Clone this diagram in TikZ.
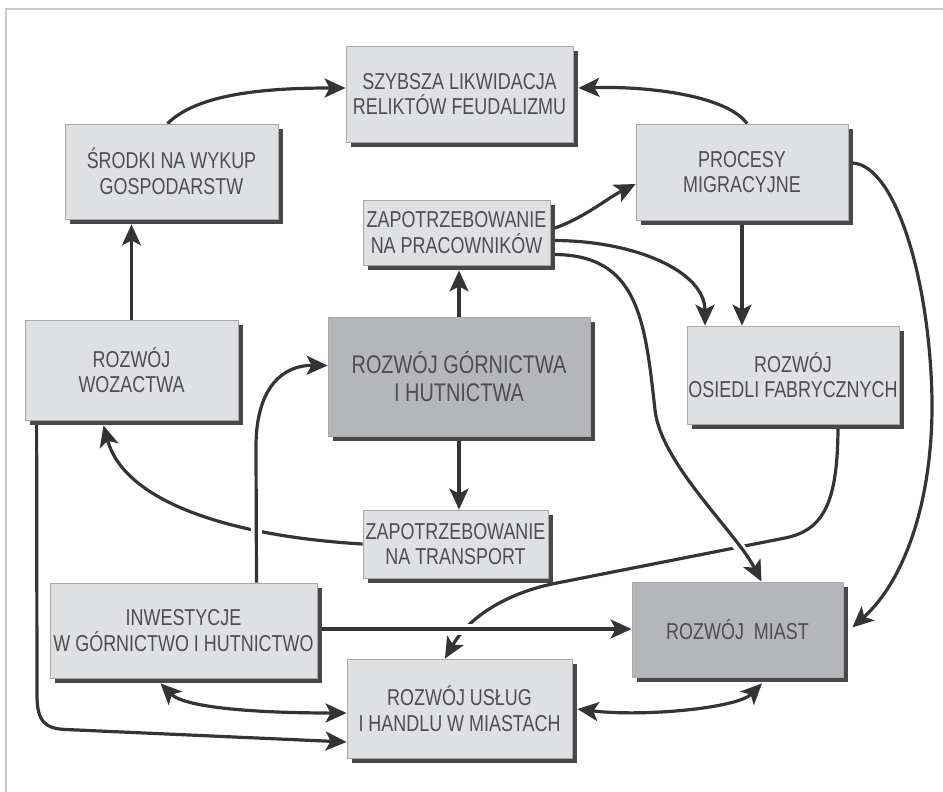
\documentclass[tikz,border=0pt]{standalone}
\usepackage{fontspec}
\newfontfamily\condfont[FakeStretch=0.78]{Liberation Sans}
\usetikzlibrary{arrows.meta,shadows,calc}
\pgfdeclarelayer{background}
\pgfsetlayers{background,main}

\definecolor{lightfill}{RGB}{223,224,226}
\definecolor{darkfill}{RGB}{181,182,186}
\definecolor{boxline}{RGB}{168,168,170}
\definecolor{shadowc}{RGB}{72,72,74}
\definecolor{txtc}{RGB}{78,78,81}
\definecolor{connc}{RGB}{52,52,55}
\definecolor{framec}{RGB}{200,200,202}

\tikzset{
  box/.style={draw=boxline, line width=0.8pt, fill=lightfill, text=txtc,
    align=center, inner sep=0pt,
    font=\condfont\fontsize{23}{25.5}\selectfont,
    general shadow={fill=shadowc, shadow xshift=5pt, shadow yshift=-5pt}},
  darkbox/.style={box, fill=darkfill},
  tip/.tip={Stealth[length=21pt, width=19pt, inset=5pt]},
  conn/.style={draw=connc, line width=3.2pt, -tip},
  both/.style={conn, tip-tip},
  bridge/.style={preaction={draw=white, line width=11pt, arrows=-}}
}

\begin{document}
\begin{tikzpicture}[x=1pt, y=-1pt]
\useasboundingbox (0,0) rectangle (943,792);

% boxes
\node[box, minimum width=227pt, minimum height=96pt] (szyb) at (459.5,94)
  {SZYBSZA LIKWIDACJA\\RELIKTÓW FEUDALIZMU};
\node[box, minimum width=213pt, minimum height=95pt] (srod) at (171.5,171.5)
  {ŚRODKI NA WYKUP\\GOSPODARSTW};
\node[box, minimum width=212pt, minimum height=96pt] (proc) at (742,172)
  {PROCESY\\MIGRACYJNE};
\node[box, minimum width=187pt, minimum height=65pt] (prac) at (456.5,232.5)
  {ZAPOTRZEBOWANIE\\NA PRACOWNIKÓW};
\node[box, minimum width=213pt, minimum height=100pt] (woz) at (131.5,370)
  {ROZWÓJ\\WOZACTWA};
\node[darkbox, minimum width=262pt, minimum height=119pt,
  font=\condfont\fontsize{25.5}{28}\selectfont] (gorn) at (459,376.5)
  {ROZWÓJ GÓRNICTWA\\I HUTNICTWA};
\node[box, minimum width=212pt, minimum height=98pt] (osie) at (793,375)
  {ROZWÓJ\\OSIEDLI FABRYCZNYCH};
\node[box, minimum width=185pt, minimum height=68pt] (trans) at (455.5,544)
  {ZAPOTRZEBOWANIE\\NA TRANSPORT};
\node[box, minimum width=267pt, minimum height=95pt] (inw) at (183.5,630.5)
  {INWESTYCJE\\W GÓRNICTWO I HUTNICTWO};
\node[darkbox, minimum width=211pt, minimum height=95pt] (miast) at (737.5,629.5)
  {ROZWÓJ\ \ MIAST};
\node[box, minimum width=225pt, minimum height=99pt] (uslug) at (459.5,708.5)
  {ROZWÓJ USŁUG\\I HANDLU W MIASTACH};

\begin{pgfonlayer}{background}
  % frame
  \draw[framec, line width=1.5pt] (6,792) -- (6,9) -- (943,9);

  % connectors passing underneath others
  \draw[conn] (trans.west) .. controls +(-122,-7) and +(22,80)
    .. ($(woz.south)+(-28,5)$);
  \draw[conn] ($(osie.south)+(45,0)$) .. controls +(0,76) and (825,530)
    .. (785,538) -- (557,583) .. controls (510,592) and (470,615)
    .. ($(uslug.north)+(-14.5,0)$);

  % upper part
  \draw[conn] ($(srod.north)+(-4,0)$) .. controls +(30,-30) and +(-80,0)
    .. ($(szyb.west)+(0,-6)$);
  \draw[conn] ($(proc.north)+(5,0)$) .. controls +(-20,-28) and +(70,-2)
    .. ($(szyb.east)+(5,-6)$);
  \draw[conn] (woz.north) -- ($(woz.north |- srod.south)+(0,5)$);
  \draw[conn] (gorn.north) -- ($(gorn.north |- prac.south)+(0,5)$);
  \draw[conn] ($(prac.east)+(3,-4)$) .. controls +(30,-10) and +(-28,14)
    .. ($(proc.west)+(0,12)$);
  \draw[conn] (proc.south) -- (proc.south |- osie.north);
  \draw[conn] ($(prac.east)+(3,8)$) .. controls +(80,0) and +(0,-55)
    .. ($(osie.north)+(-88,0)$);
  \draw[conn, bridge] ($(prac.east)+(3,22)$) .. controls +(85,0) and (645,320)
    .. (655,410) .. controls (661,464) and (736,532)
    .. ($(miast.north)+(24,0)$);
  \draw[conn] ($(proc.east)+(4,-9)$) .. controls +(43,2) and (930,280)
    .. (932,400) .. controls (933,500) and (905,580)
    .. ($(miast.east)+(9,-2)$);

  % lower part
  \draw[conn] (gorn.south) -- (gorn.south |- trans.north);
  \draw[conn, bridge] ($(inw.north)+(73,0)$) -- (256,450)
    .. controls (255,385) and (285,365) .. ($(gorn.west)+(0,-11)$);
  \draw[conn, bridge] ($(inw.east)+(5,-1.5)$) -- ($(miast.west)+(0,-0.5)$);
  \draw[both] ($(inw.south)+(-23,5)$) .. controls +(25,25) and +(-85,0)
    .. ($(uslug.west)+(0,4.5)$);
  \draw[conn] ($(woz.south west)+(12,0)$) -- (37,695)
    .. controls (37,722) and (45,729) .. (68,729.6)
    -- ($(uslug.west)+(0,33.5)$);
  \draw[both] ($(uslug.east)+(5,0.5)$) .. controls +(65,8) and +(-25,25)
    .. ($(miast.south)+(24.5,6)$);
\end{pgfonlayer}
\end{tikzpicture}
\end{document}
